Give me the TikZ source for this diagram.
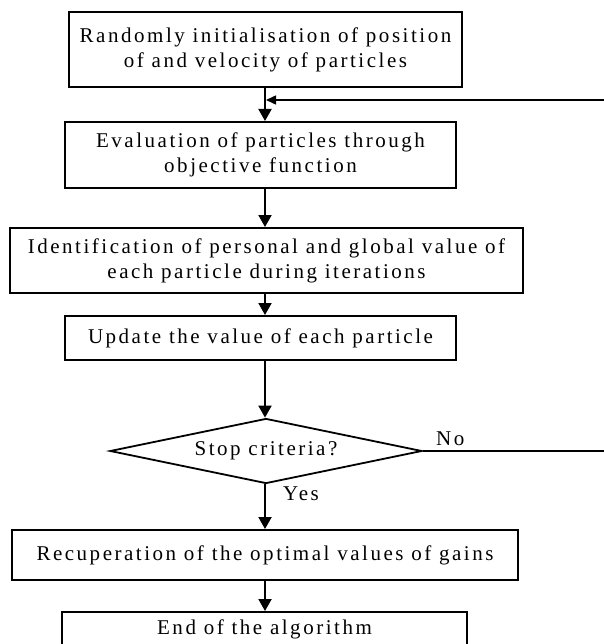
\documentclass[tikz,border=0pt]{standalone}
\usepackage{fontspec}
\setmainfont{Liberation Serif}[LetterSpace=12]
\usetikzlibrary{arrows.meta,shapes.geometric}
\begin{document}
\begin{tikzpicture}[x=1pt,y=-1pt,
  box/.style={draw,line width=2pt,rectangle,align=center,font=\fontsize{21}{25}\selectfont,inner sep=0pt},
  dec/.style={draw,line width=1.8pt,diamond,aspect=4.8,inner sep=0pt,font=\fontsize{21}{25}\selectfont},
  arr/.style={line width=2pt,-{Triangle[length=12pt,width=13pt]}},
  fb/.style={line width=1.5pt},
  lbl/.style={font=\fontsize{21}{22}\selectfont,inner sep=0pt}]
\useasboundingbox (0,0) rectangle (603,644);
\coordinate (spine) at (265,0);
\node[box,minimum width=393pt,minimum height=75pt] (b1) at (265.5,49.5) {Randomly initialisation of position\\of and velocity of particles};
\node[box,minimum width=391pt,minimum height=66pt] (b2) at (260.5,155) {Evaluation of particles through\\objective function};
\node[box,minimum width=513pt,minimum height=65pt] (b3) at (266.5,260.5) {Identification of personal and global value of\\each particle during iterations};
\node[box,minimum width=391pt,minimum height=44pt] (b4) at (260.5,338) {Update the value of each particle};
\node[dec,minimum width=312pt,minimum height=65pt] (d) at (266,451) {Stop criteria?};
\node[box,minimum width=506pt,minimum height=50pt] (b5) at (265,555) {Recuperation of the optimal values of gains};
\node[box,minimum width=405pt,minimum height=52pt] (b6) at (264.5,638) {};
\node[lbl] (t6) at (264.5,629) {End of the algorithm};
\coordinate (c1) at (606,451);
\coordinate (c2) at (606,100);
\coordinate (c3) at (265,100);
\draw[arr] (b1.south -| spine) -- (b2.north -| spine);
\draw[arr] (b2.south -| spine) -- (b3.north -| spine);
\draw[arr] (b3.south -| spine) -- (b4.north -| spine);
\draw[arr] (b4.south -| spine) -- (d.north -| spine);
\draw[arr] (d.south -| spine) -- (b5.north -| spine);
\draw[arr] (b5.south -| spine) -- (b6.north -| spine);
\draw[fb,-{Triangle[length=10pt,width=9pt]}] (d.east) -- (c1) -- (c2) -- ([xshift=1pt]c3);
\node[lbl,anchor=south west] (no) at (436,446) {No};
\node[lbl,anchor=west] (yes) at (283,494) {Yes};
\end{tikzpicture}
\end{document}
